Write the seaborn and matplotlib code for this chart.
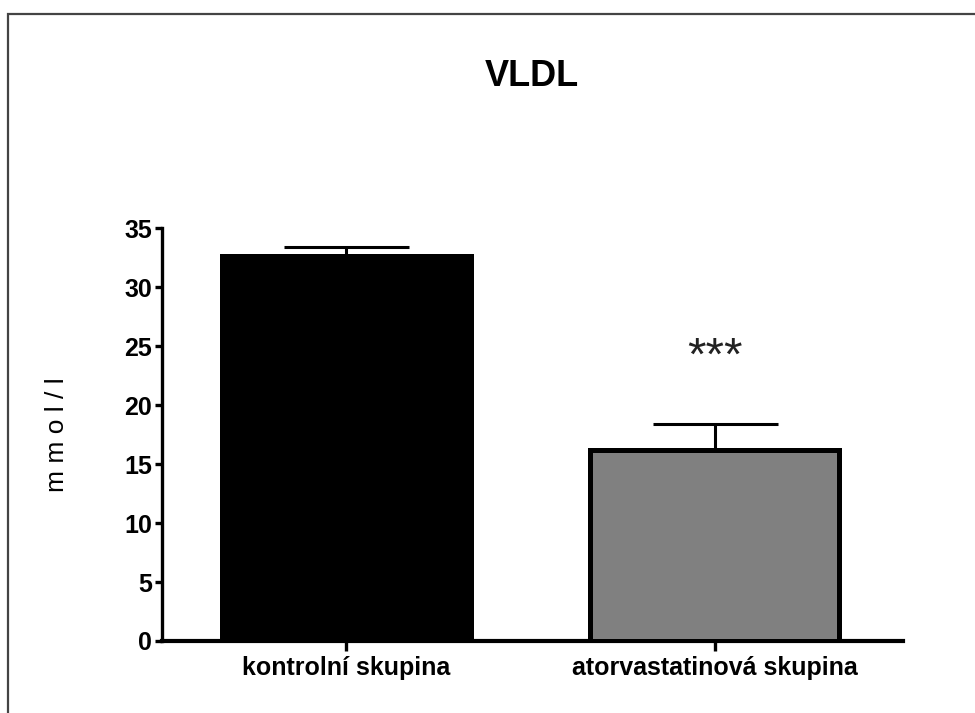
import matplotlib
matplotlib.use("Agg")
import matplotlib.pyplot as plt
import seaborn as sns
import pandas as pd
from matplotlib.patches import Rectangle

categories = ["kontrolní skupina", "atorvastatinová skupina"]
means = [32.6, 16.2]
sem = [0.8, 2.2]
colors = ["#000000", "#808080"]
title = "VLDL"
ylabel = "m m o l / l"
yticks = [0, 5, 10, 15, 20, 25, 30, 35]
signif = ["", "***"]
signif_y = [0, 24.0]

sns.set_theme(style="white")
plt.rcParams['font.family'] = ['Liberation Sans', 'DejaVu Sans']
plt.rcParams['text.color'] = 'black'
plt.rcParams['axes.labelcolor'] = 'black'

df = pd.DataFrame({"group": categories, "value": means})

fig = plt.figure(figsize=(9.75, 7.13), dpi=100)
ax = fig.add_axes([0.166, 0.101, 0.760, 0.579])

sns.barplot(data=df, x="group", y="value", hue="group", palette=colors,
            width=0.675, edgecolor="black", linewidth=3.6, legend=False,
            ax=ax, zorder=3)

x = list(range(len(categories)))
ax.errorbar(x, means, yerr=[[0] * len(sem), sem], fmt="none", ecolor="black",
            elinewidth=2.2, capsize=45, capthick=2.2, zorder=2)

for xi, s, sy in zip(x, signif, signif_y):
    if s:
        ax.text(xi, sy, s, ha="center", va="center", fontsize=34,
                color="#222222")

ax.set_xlim(-0.5, 1.51)
ax.set_ylim(0, 35)
ax.set_yticks(yticks)
ax.set_yticklabels([str(t) for t in yticks], fontsize=18, fontweight="bold")
ax.set_xticks(x)
ax.set_xticklabels(categories, fontsize=18, fontweight="bold")
ax.set_xlabel("")
ax.set_ylabel(ylabel, fontsize=19, labelpad=40, color="black")

fig.text(532 / 975, 1 - 76 / 713, title, fontsize=26, fontweight="bold",
         ha="center", va="center", color="black")

for side in ["top", "right"]:
    ax.spines[side].set_visible(False)
ax.spines["left"].set_linewidth(2.4)
ax.spines["bottom"].set_linewidth(3.0)
ax.spines["left"].set_color("black")
ax.spines["bottom"].set_color("black")
ax.tick_params(axis="y", direction="out", length=5, width=2.4, left=True,
               pad=2, colors="black")
ax.tick_params(axis="x", direction="out", length=7, width=2.4, bottom=True,
               pad=4, colors="black")
ax.set_facecolor("white")

fig.patches.append(Rectangle((8 / 975, -0.1), 1.2, (713 - 14) / 713 + 0.1,
                             transform=fig.transFigure, fill=False,
                             edgecolor="#444444", linewidth=1.6))

fig.savefig("out.png", dpi=100, facecolor="white")
